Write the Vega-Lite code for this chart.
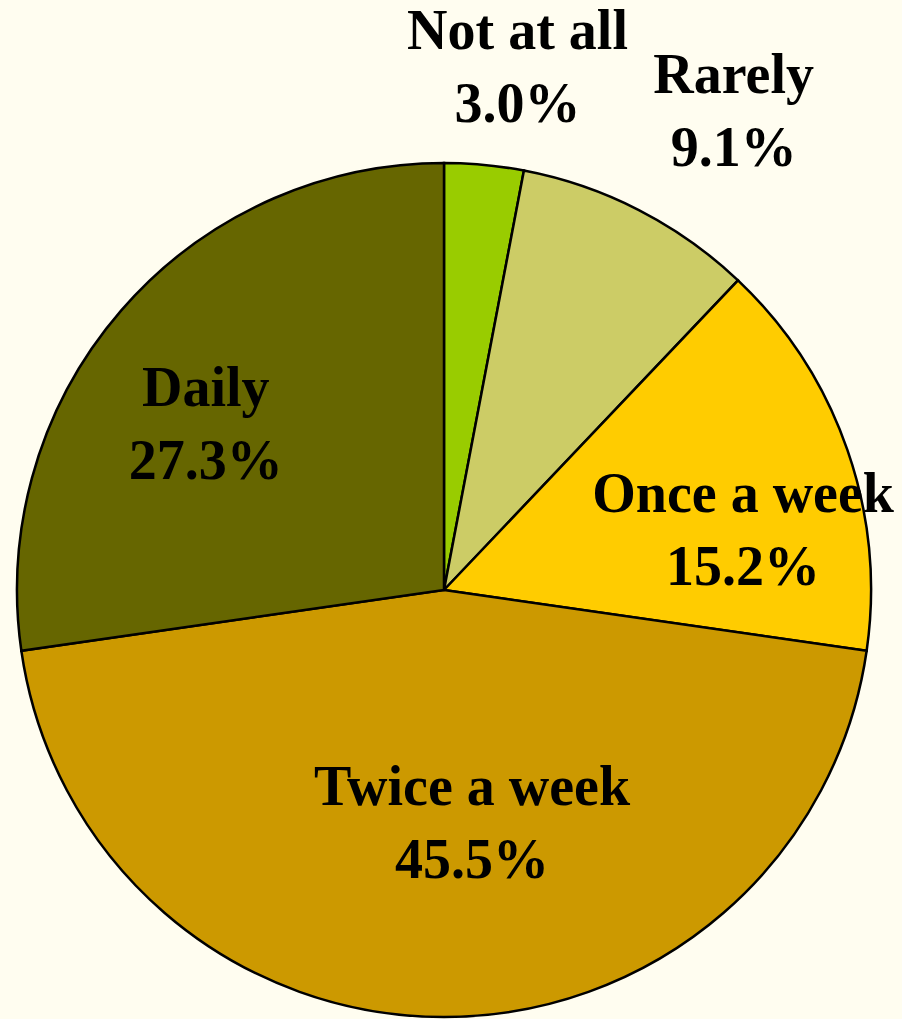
{
  "$schema": "https://vega.github.io/schema/vega-lite/v6.json",
  "width": 888,
  "height": 856,
  "autosize": {"type": "none"},
  "padding": {"left": 0, "top": 162, "right": 14, "bottom": 1},
  "background": "#FFFDF0",
  "config": {"view": {"stroke": null}},
  "data": {
    "values": [
      {"category": "Not at all", "value": 3.0},
      {"category": "Rarely", "value": 9.1},
      {"category": "Once a week", "value": 15.2},
      {"category": "Twice a week", "value": 45.5},
      {"category": "Daily", "value": 27.3}
    ]
  },
  "transform": [
    {"window": [{"op": "row_number", "as": "idx"}]},
    {"stack": "value", "groupby": [], "sort": [{"field": "idx", "order": "ascending"}], "as": ["v0", "v1"]},
    {"calculate": "(datum.v0 + datum.v1) / 2", "as": "mid"},
    {"calculate": "datum.category + '\\n' + format(datum.value, '.1f') + '%'", "as": "label"}
  ],
  "layer": [
    {
      "mark": {"type": "arc", "radius": 427, "stroke": "#000000", "strokeWidth": 2.5},
      "encoding": {
        "theta": {"field": "v0", "type": "quantitative", "scale": {"domain": [0, 100.1]}},
        "theta2": {"field": "v1"},
        "color": {
          "field": "category",
          "type": "nominal",
          "scale": {
            "domain": ["Not at all", "Rarely", "Once a week", "Twice a week", "Daily"],
            "range": ["#99CC00", "#CCCC66", "#FFCC00", "#CC9900", "#666600"]
          },
          "legend": null
        }
      }
    },
    {
      "transform": [{"filter": "datum.category === 'Not at all'"}],
      "mark": {"type": "text", "radius": 527, "dx": 24, "dy": -33.5, "align": "center", "baseline": "middle", "font": "Liberation Serif", "fontWeight": "bold", "fontSize": 56, "lineHeight": 73, "lineBreak": "\n", "color": "#000000"},
      "encoding": {"theta": {"field": "mid", "type": "quantitative"}, "text": {"field": "label"}}
    },
    {
      "transform": [{"filter": "datum.category === 'Rarely'"}],
      "mark": {"type": "text", "radius": 558, "dx": 35, "dy": -17.5, "align": "center", "baseline": "middle", "font": "Liberation Serif", "fontWeight": "bold", "fontSize": 56, "lineHeight": 73, "lineBreak": "\n", "color": "#000000"},
      "encoding": {"theta": {"field": "mid", "type": "quantitative"}, "text": {"field": "label"}}
    },
    {
      "transform": [{"filter": "datum.category === 'Once a week'"}],
      "mark": {"type": "text", "radius": 305, "dx": 11, "dy": 5.5, "align": "center", "baseline": "middle", "font": "Liberation Serif", "fontWeight": "bold", "fontSize": 56, "lineHeight": 73, "lineBreak": "\n", "color": "#000000"},
      "encoding": {"theta": {"field": "mid", "type": "quantitative"}, "text": {"field": "label"}}
    },
    {
      "transform": [{"filter": "datum.category === 'Twice a week'"}],
      "mark": {"type": "text", "radius": 235, "dx": 28, "dy": -37.5, "align": "center", "baseline": "middle", "font": "Liberation Serif", "fontWeight": "bold", "fontSize": 56, "lineHeight": 73, "lineBreak": "\n", "color": "#000000"},
      "encoding": {"theta": {"field": "mid", "type": "quantitative"}, "text": {"field": "label"}}
    },
    {
      "transform": [{"filter": "datum.category === 'Daily'"}],
      "mark": {"type": "text", "radius": 290, "dx": -19, "dy": -11.5, "align": "center", "baseline": "middle", "font": "Liberation Serif", "fontWeight": "bold", "fontSize": 56, "lineHeight": 73, "lineBreak": "\n", "color": "#000000"},
      "encoding": {"theta": {"field": "mid", "type": "quantitative"}, "text": {"field": "label"}}
    }
  ]
}
